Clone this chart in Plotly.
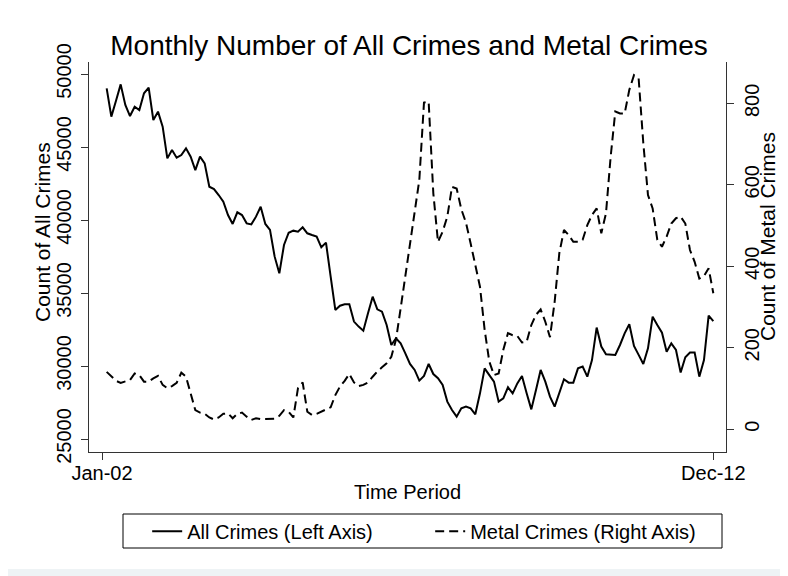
import plotly.graph_objects as go

# Month offsets from Jan-02 (0) ; series start Feb-02 and end Dec-12
all_crimes = [
    49020, 47080, 48170, 49290, 47880, 47120, 47760, 47530, 48680, 49060,
    46850, 47420, 46390, 44220, 44800, 44270, 44450, 44910, 44340, 43420,
    44340, 43880, 42280, 42120, 41710, 41260, 40340, 39730, 40530, 40340,
    39770, 39700, 40230, 40910, 39730, 39320, 37490, 36350, 38290, 39130,
    39270, 39200, 39500, 39090, 38970, 38860, 38130, 38450, 36120, 33840,
    34130, 34230, 34230, 33040, 32700, 32420, 33610, 34750, 33880, 33720,
    32810, 31440, 31900, 31550, 30870, 30140, 29730, 29000, 29320, 30140,
    29450, 29160, 28700, 27560, 26990, 26530, 27100, 27220, 27100, 26690,
    28130, 29840, 29380, 28930, 27560, 27790, 28540, 28130, 28810, 29320,
    28130, 27030, 28360, 29730, 28930, 27900, 27220, 28130, 29090, 28860,
    28860, 29840, 29960, 29270, 30410, 32630, 31330, 30800, 30800, 30760,
    31440, 32240, 32860, 31370, 30760, 30140, 31210, 33380, 32810, 32280,
    30980, 31550, 31100, 29550, 30600, 30920, 30920, 29270, 30410, 33450,
    33080,
]

metal_crimes = [
    141, 129, 119, 114, 117, 121, 137, 133, 117, 117,
    125, 131, 109, 101, 106, 114, 139, 129, 88, 47,
    41, 38, 29, 24, 29, 38, 39, 27, 38, 41,
    31, 23, 27, 25, 25, 25, 26, 33, 47, 43,
    29, 101, 115, 43, 35, 38, 43, 47, 54, 84,
    105, 119, 136, 115, 106, 109, 115, 129, 142, 152,
    162, 178, 220, 297, 375, 452, 538, 612, 802, 804,
    579, 460, 485, 522, 595, 591, 540, 507, 456, 403,
    350, 244, 166, 133, 137, 195, 236, 231, 229, 213,
    215, 256, 281, 294, 264, 226, 313, 432, 489, 477,
    460, 460, 465, 501, 526, 542, 481, 530, 669, 780,
    775, 775, 833, 869, 861, 702, 575, 542, 465, 448,
    473, 505, 518, 522, 505, 440, 411, 370, 376, 395,
    334,
]

start_month = 1  # Feb-02 (Jan-02 = 0)
months = list(range(start_month, start_month + len(all_crimes)))

x_tick_vals = [0, 131]
x_tick_text = ["Jan-02", "Dec-12"]
left_ticks = [25000, 30000, 35000, 40000, 45000, 50000]
left_tick_text = [str(v) for v in left_ticks]
right_ticks = [0, 200, 400, 600, 800]

FONT = "Liberation Sans, Arial, sans-serif"

fig = go.Figure()
fig.add_trace(go.Scatter(
    x=months, y=all_crimes, mode="lines", name="All Crimes (Left Axis)",
    line=dict(color="black", width=2), yaxis="y",
))
fig.add_trace(go.Scatter(
    x=months, y=metal_crimes, mode="lines", name="Metal Crimes (Right Axis)",
    line=dict(color="black", width=2, dash="9px,5px"), yaxis="y2",
))

axis_common = dict(
    showgrid=False, zeroline=False, showline=True, linecolor="#333333",
    linewidth=1, ticks="outside", ticklen=7, tickcolor="#333333",
    tickfont=dict(family=FONT, size=20, color="black"),
)

fig.update_layout(
    width=788, height=576,
    margin=dict(l=81, r=70, t=54, b=132),
    paper_bgcolor="#EEF3F5",
    plot_bgcolor="white",
    font=dict(family=FONT, color="black"),
    title=dict(text="Monthly Number of All Crimes and Metal Crimes",
               x=401 / 788, xanchor="center", y=1 - 37 / 576, yanchor="middle",
               font=dict(family=FONT, size=28, color="black")),
    xaxis=dict(range=[-2.786, 133.72], tickvals=x_tick_vals, ticktext=x_tick_text,
               ticklabelstandoff=-4, **axis_common),
    yaxis=dict(range=[24110, 50822], tickvals=left_ticks, ticktext=left_tick_text,
               tickangle=-90, ticklabelstandoff=2, **axis_common),
    yaxis2=dict(range=[-55.7, 901.4], tickvals=right_ticks, tickangle=-90,
                overlaying="y", side="right", anchor="x", ticklabelstandoff=1,
                **axis_common),
    showlegend=True,
    legend=dict(orientation="h", x=0.5356, xanchor="center", y=-0.203,
                yanchor="middle", borderwidth=0, bgcolor="rgba(0,0,0,0)",
                entrywidth=238, entrywidthmode="pixels",
                font=dict(family=FONT, size=20, color="black")),
    annotations=[
        dict(text="Time Period", xref="paper", yref="paper",
             x=(408 - 89) / 637, y=(452 - 492) / 390, showarrow=False,
             xanchor="center", yanchor="middle", font=dict(size=20)),
        dict(text="Count of All Crimes", xref="paper", yref="paper",
             x=(42 - 89) / 637, y=(452 - 232) / 390, showarrow=False,
             textangle=-90, xanchor="center", yanchor="middle", font=dict(size=21)),
        dict(text="Count of Metal Crimes", xref="paper", yref="paper",
             x=(768 - 89) / 637, y=(452 - 237) / 390, showarrow=False,
             textangle=-90, xanchor="center", yanchor="middle", font=dict(size=21)),
    ],
    shapes=[
        dict(type="rect", xref="paper", yref="paper", layer="below",
             x0=(-10 - 81) / 637, x1=(773 - 81) / 637,
             y0=(444 - 561) / 390, y1=(444 + 10) / 390,
             fillcolor="white", line=dict(width=0)),
        dict(type="rect", xref="paper", yref="paper", layer="above",
             x0=(115 - 81) / 637, x1=(714 - 81) / 637,
             y0=(444 - 540) / 390, y1=(444 - 506) / 390,
             fillcolor="rgba(0,0,0,0)", line=dict(color="black", width=1)),
    ],
)

fig.write_html("out.html")
